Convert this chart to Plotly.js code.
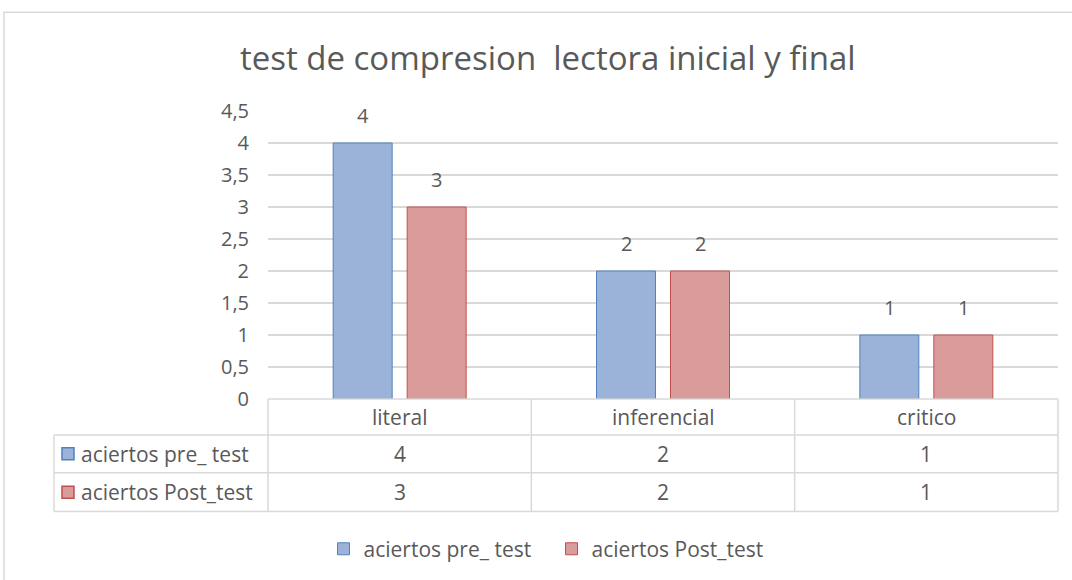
<!DOCTYPE html>
<html><head><meta charset="utf-8">
<script src="https://cdn.plot.ly/plotly-3.0.1.min.js"></script>
<style>html,body{margin:0;padding:0;background:#fff}#c{width:1072px;height:580px}</style>
</head><body><div id="c"></div>
<script>
const categories = ["literal", "inferencial", "critico"];
const seriesNames = ["aciertos pre_ test", "aciertos Post_test"];
const preTest = [4, 2, 1];
const postTest = [3, 2, 1];
const yTicks = [0, 0.5, 1, 1.5, 2, 2.5, 3, 3.5, 4, 4.5];

const seriesValues = [preTest, postTest];
const fills = ["#9cb3d9", "#da9c9b"];
const lines = ["#4f81bd", "#c0504d"];
const txt = "#595959";
const grid = "#d9d9d9";
const FONT = "'Open Sans', sans-serif";
const FS = 20, FT = 21;

const traces = seriesValues.map((vals, i) => ({
  type: "bar", name: seriesNames[i], x: categories, y: vals,
  marker: {color: fills[i], line: {color: lines[i], width: 1}},
  hoverinfo: "skip"
}));

const annotations = [];
const shapes = [];
const shift = [-37, 37];
seriesValues.forEach((vals, i) => {
  vals.forEach((v, j) => {
    annotations.push({xref: "x", yref: "y", x: categories[j], y: v, xshift: shift[i], yshift: 12,
      xanchor: "center", yanchor: "bottom", showarrow: false, text: String(v),
      font: {size: FS, color: txt, family: FONT}});
  });
});
const rowY = [-0.0623, -0.190, -0.3235];
const colX = [1/6, 0.5, 5/6];
categories.forEach((c, j) => annotations.push({xref: "paper", yref: "paper", x: colX[j], y: rowY[0],
  xanchor: "center", yanchor: "middle", showarrow: false, text: c, font: {size: FT, color: txt, family: FONT}}));
seriesValues.forEach((vals, i) => {
  vals.forEach((v, j) => annotations.push({xref: "paper", yref: "paper", x: colX[j], y: rowY[i + 1],
    xanchor: "center", yanchor: "middle", showarrow: false, text: String(v), font: {size: FT, color: txt, family: FONT}}));
  annotations.push({xref: "paper", yref: "paper", x: -0.2709, xshift: 25, y: rowY[i + 1],
    xanchor: "left", yanchor: "middle",
    showarrow: false, text: seriesNames[i], font: {size: FT, color: txt, family: FONT}});
  shapes.push({type: "rect", xref: "paper", yref: "paper", xsizemode: "pixel", ysizemode: "pixel",
    xanchor: -0.2709, yanchor: rowY[i + 1], x0: 8, x1: 20, y0: -6, y1: 6,
    fillcolor: fills[i], line: {color: lines[i], width: 1.5}});
});
const L = -0.2709, C = "#d9d9d9";
const hl = (y, x0) => shapes.push({type: "line", xref: "paper", yref: "paper", x0: x0, x1: 1, y0: y, y1: y, line: {color: C, width: 1.5}});
hl(0, 0); hl(-0.1246, L); hl(-0.2561, L); hl(-0.391, L);
const vl = (x, y0) => shapes.push({type: "line", xref: "paper", yref: "paper", x0: x, x1: x, y0: y0, y1: -0.391, line: {color: C, width: 1.5}});
vl(L, -0.1246); vl(0, 0); vl(1/3, 0); vl(2/3, 0); vl(1, 0);
shapes.push({type: "rect", xref: "paper", yref: "paper", x0: -0.3342, x1: 1.05, y0: -0.9, y1: 1.3426,
  line: {color: "#d9d9d9", width: 1.5}, fillcolor: "rgba(0,0,0,0)", layer: "below"});

const layout = {
  width: 1072, height: 580,
  margin: {l: 268, r: 14, t: 111, b: 180},
  paper_bgcolor: "#fff", plot_bgcolor: "#fff",
  separators: ",.",
  font: {family: FONT, color: txt, size: FS},
  title: {text: "test de compresion  lectora inicial y final", x: 0.511, xref: "container",
    y: 0.9, yref: "container", yanchor: "middle", font: {size: 33, color: txt, family: FONT}},
  barmode: "group", bargap: 0.438, bargroupgap: 0.203,
  showlegend: true,
  legend: {orientation: "h", x: 0.3589, xanchor: "center", y: -0.516, yanchor: "middle",
    itemwidth: 30, entrywidth: 183, font: {size: FT, color: txt, family: FONT}, itemclick: false},
  xaxis: {showticklabels: false, showgrid: false, zeroline: false, showline: false, fixedrange: true},
  yaxis: {range: [0, 4.5], tickvals: yTicks, ticktext: yTicks.map(v => String(v).replace(".", ",")),
    showgrid: true, gridcolor: grid, gridwidth: 1.5, zeroline: false, showline: false, ticks: "",
    ticklabelstandoff: 18, tickfont: {size: FS, color: txt, family: FONT}, fixedrange: true},
  annotations: annotations, shapes: shapes
};
Plotly.newPlot("c", traces, layout, {displayModeBar: false, staticPlot: true});
</script></body></html>
